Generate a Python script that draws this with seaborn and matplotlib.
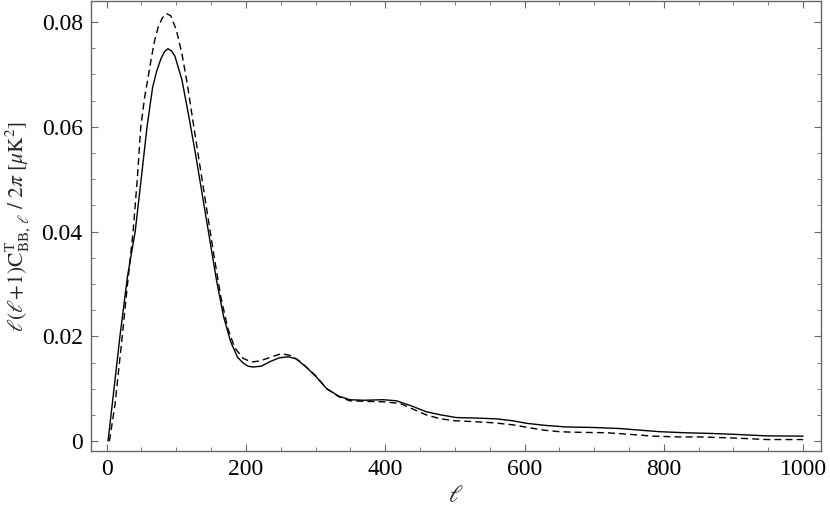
import numpy as np
import pandas as pd
import matplotlib
matplotlib.use('Agg')
import matplotlib.pyplot as plt
from matplotlib.ticker import MultipleLocator
import seaborn as sns

ell_solid = [2, 10, 19, 30, 41, 50, 58, 66, 72, 78, 83, 88, 93, 98, 108, 118, 128, 138,
             148, 158, 168, 178, 188, 196, 203, 210, 222, 235, 248, 261, 272, 285, 300,
             316, 333, 349, 370, 397, 416, 438, 459, 480, 502, 530, 560, 582, 603, 630,
             660, 700, 737, 765, 794, 830, 866, 900, 948, 1000]
cl_solid = [0.0, 0.0093, 0.0199, 0.0315, 0.0400, 0.0505, 0.0600, 0.0675, 0.0707, 0.0730,
            0.0743, 0.0749, 0.0745, 0.0735, 0.0690, 0.0620, 0.0545, 0.0465,
            0.0385, 0.0305, 0.0237, 0.0190, 0.0160, 0.0149, 0.0143, 0.01415, 0.0143,
            0.0152, 0.0159, 0.0161, 0.0157, 0.0143, 0.0124,
            0.0100, 0.0086, 0.0079, 0.0078, 0.0079, 0.0077, 0.0067, 0.0056, 0.0050,
            0.0045, 0.0044, 0.00425, 0.0039, 0.0034, 0.0030,
            0.0027, 0.0026, 0.0024, 0.0021, 0.0018, 0.0016, 0.00147, 0.0013, 0.0010,
            0.00095]

ell_dashed = [4, 12, 22, 30, 38, 44, 49, 55, 59, 64, 69, 74, 80, 86, 92, 100, 108, 116,
              124, 134, 144, 154, 164, 174, 184, 196, 208, 220, 235, 251, 265, 278, 300,
              316, 333, 349, 370, 397, 421, 440, 459, 478, 498, 530, 555, 584, 605, 627,
              650, 670, 718, 750, 785, 820, 852, 900, 948, 1000]
cl_dashed = [0.0, 0.0070, 0.0195, 0.0300, 0.0400, 0.0500, 0.0600, 0.0660, 0.0690, 0.0730,
             0.0765, 0.0790, 0.0808, 0.0816, 0.0812, 0.0785, 0.0740, 0.0680,
             0.0610, 0.0525, 0.0440, 0.0355, 0.0275, 0.0215, 0.0178, 0.0158, 0.0151,
             0.0153, 0.0160, 0.0167, 0.0163, 0.0152, 0.0125,
             0.0100, 0.0085, 0.0077, 0.0076, 0.0075, 0.0072, 0.0061, 0.0050, 0.0043,
             0.0039, 0.0037, 0.0035, 0.0031, 0.0026, 0.0021,
             0.0018, 0.0017, 0.0016, 0.0013, 0.00095, 0.0008, 0.0008, 0.0006, 0.0003,
             0.0003]

df = pd.concat([
    pd.DataFrame({'ell': ell_solid, 'cl': cl_solid, 'model': 'solid'}),
    pd.DataFrame({'ell': ell_dashed, 'cl': cl_dashed, 'model': 'dashed'}),
], ignore_index=True)

sns.set_theme(style='ticks')
plt.rcParams['font.family'] = ['Liberation Serif', 'DejaVu Serif']
plt.rcParams['mathtext.fontset'] = 'stix'

fig = plt.figure(figsize=(8.3, 5.12), dpi=100)
ax = fig.add_axes([0.1096, 0.119, 0.879, 0.879])

sns.lineplot(data=df, x='ell', y='cl', style='model',
             style_order=['solid', 'dashed'],
             dashes={'solid': '', 'dashed': (5, 3)},
             color='black', linewidth=1.0, estimator=None, sort=False,
             legend=False, ax=ax)

ax.set_xlim(-22.5, 1025)
ax.set_ylim(-0.0019, 0.084)
ax.xaxis.set_major_locator(MultipleLocator(200))
ax.xaxis.set_minor_locator(MultipleLocator(50))
ax.yaxis.set_minor_locator(MultipleLocator(0.005))
ax.set_yticks([0, 0.02, 0.04, 0.06, 0.08])
ax.set_yticklabels(['0', '0.02', '0.04', '0.06', '0.08'])

ax.tick_params(which='both', direction='in', top=True, right=True,
               color='#666666', labelsize=17, labelcolor='black', pad=6)
ax.tick_params(which='major', length=5, width=0.8)
ax.tick_params(which='minor', length=3, width=0.6)
for s in ax.spines.values():
    s.set_color('#666666')
    s.set_linewidth(1.0)

ax.set_xlabel(r'$\ell$', fontsize=17, labelpad=4)
ax.set_ylabel(r'$\ell(\ell\!+\!1)\mathrm{C}^{\mathrm{T}}_{\mathrm{BB},\,\ell}\ /\ 2\pi\ [\mu\mathrm{K}^2]$',
              fontsize=15.5)
ax.yaxis.set_label_coords(-0.08, 0.5)

fig.savefig('out.png', dpi=100)
